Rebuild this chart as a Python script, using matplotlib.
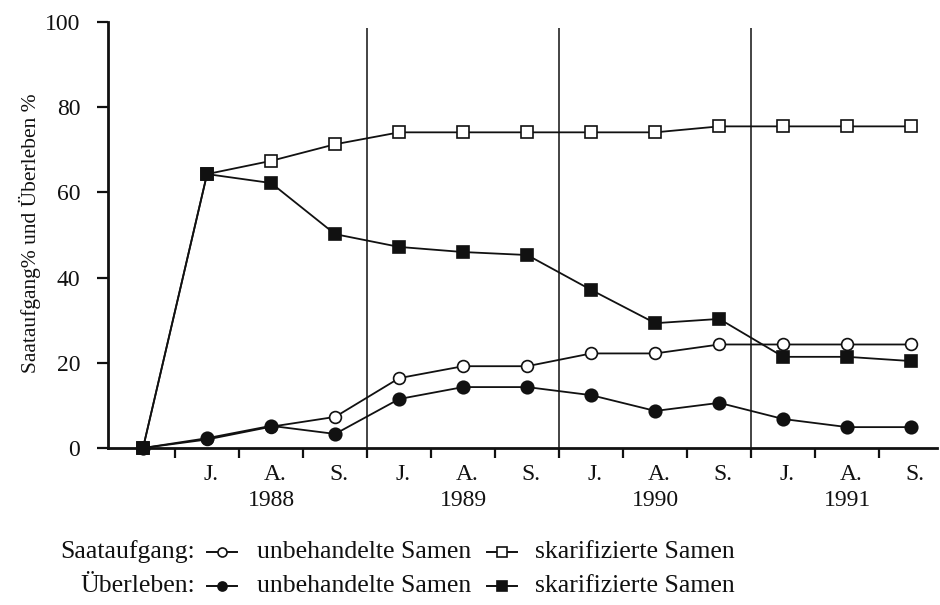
import matplotlib.pyplot as plt
import matplotlib.transforms as mtransforms
from matplotlib.lines import Line2D

# sampling dates: start, then June / August / September of each year
months = ["J.", "A.", "S."] * 4
years = ["1988", "1989", "1990", "1991"]

# Saataufgang (emergence) and Überleben (survival), % of seeds
saat_unbeh = [0, 2, 5, 7.3, 16.4, 19.2, 19.2, 22.2, 22.2, 24.3, 24.3, 24.3, 24.3]
saat_skar = [0, 64.3, 67.4, 71.3, 74.1, 74.1, 74.1, 74.1, 74.1, 75.5, 75.5, 75.5, 75.5]
ueber_unbeh = [0, 2.3, 5.2, 3.3, 11.5, 14.3, 14.3, 12.4, 8.7, 10.6, 6.8, 4.9, 4.9]
ueber_skar = [0, 64.3, 62.2, 50.2, 47.2, 46.0, 45.3, 37.1, 29.3, 30.3, 21.4, 21.4, 20.4]

plt.rcParams["font.family"] = ["Liberation Serif", "DejaVu Serif"]
ink = "#111111"

fig = plt.figure(figsize=(9.4, 6.05), dpi=100)
ax = fig.add_axes([108 / 940, 1 - 448 / 605, 829 / 940, 426 / 605])

x = list(range(len(saat_unbeh)))
common = dict(color=ink, lw=1.3, markeredgecolor=ink, markeredgewidth=1.2, clip_on=False)
ax.plot(x, saat_skar, marker="s", ms=8.5, markerfacecolor="white", zorder=3, **common)
ax.plot(x, saat_unbeh, marker="o", ms=8.5, markerfacecolor="white", zorder=3, **common)
ax.plot(x, ueber_skar, marker="s", ms=9, markerfacecolor=ink, zorder=4, **common)
ax.plot(x, ueber_unbeh, marker="o", ms=9, markerfacecolor=ink, zorder=4, **common)

# year separators
for xs in [3.5, 6.5, 9.5]:
    ax.vlines(xs, 0, 98.6, color=ink, lw=1.1, zorder=1)

ax.set_xlim(-0.547, 12.4)
ax.set_ylim(0, 100)
ax.spines[["top", "right"]].set_visible(False)
for s in ["left", "bottom"]:
    ax.spines[s].set_linewidth(2)
    ax.spines[s].set_color(ink)

ax.set_yticks(range(0, 101, 20))
ax.tick_params(axis="y", direction="out", length=8, width=1.6, pad=12,
               labelsize=17, colors=ink)
ax.set_xticks([i + 0.5 for i in range(12)])
ax.set_xticklabels([])
ax.tick_params(axis="x", direction="out", length=7, width=1.6, colors=ink)

# month and year labels under the axis
trans = mtransforms.blended_transform_factory(ax.transData, fig.transFigure)
for i, m in enumerate(months):
    ax.text(i + 1.06, 1 - 474 / 605, m, transform=trans, ha="center", va="center",
            fontsize=17, color=ink)
for k, yr in enumerate(years):
    ax.text(2 + 3 * k, 1 - 501 / 605, yr, transform=trans, ha="center", va="center",
            fontsize=17, color=ink)

fig.text(30 / 940, 1 - 233 / 605, "Saataufgang% und Überleben %", rotation=90,
         ha="center", va="center", fontsize=15.5, color=ink)


# key below the chart
def key_symbol(xc, yc, marker, face):
    xs = [(xc - 15) / 940, xc / 940, (xc + 15) / 940]
    ys = [1 - yc / 605] * 3
    fig.add_artist(Line2D(xs, ys, transform=fig.transFigure, color=ink, lw=1.4,
                          marker=marker, markevery=[1], ms=6.5,
                          markerfacecolor=face, markeredgecolor=ink,
                          markeredgewidth=1.2))


rows = [("Saataufgang:", 552, "o", "s", "white"), ("Überleben:", 586, "o", "s", ink)]
for label, yc, m1, m2, face in rows:
    fig.text(195 / 940, 1 - yc / 605, label, ha="right", va="center",
             fontsize=18.5, color=ink)
    key_symbol(222, yc, m1, face)
    fig.text(257 / 940, 1 - yc / 605, "unbehandelte Samen", ha="left", va="center",
             fontsize=18.5, color=ink)
    key_symbol(502, yc, m2, face)
    fig.text(535 / 940, 1 - yc / 605, "skarifizierte Samen", ha="left", va="center",
             fontsize=18.5, color=ink)

fig.savefig("out.png", dpi=100, facecolor="white")
